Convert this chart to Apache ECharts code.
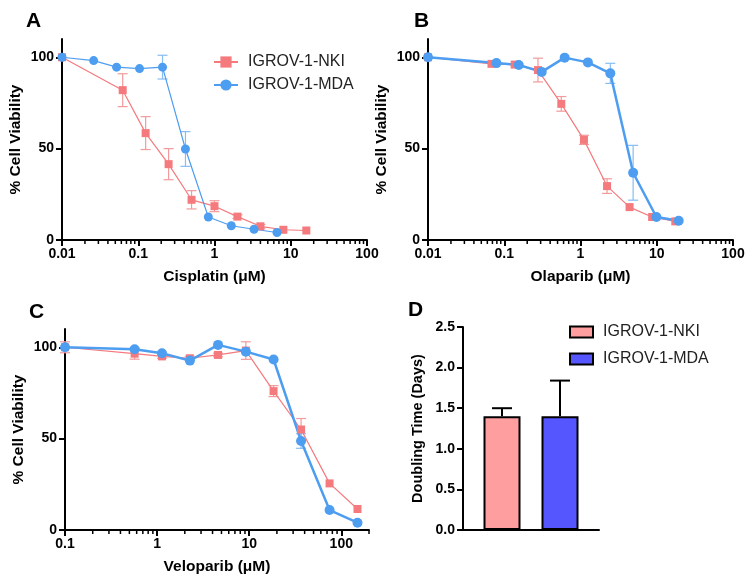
<!DOCTYPE html>
<html>
<head>
<meta charset="utf-8">
<script src="https://cdn.jsdelivr.net/npm/echarts@6/dist/echarts.min.js"></script>
<style>
  html, body { margin: 0; padding: 0; background: #fff; }
  #chart { width: 749px; height: 584px; }
</style>
</head>
<body>
<div id="chart"></div>
<script>
const chart = echarts.init(document.getElementById('chart'));

// ---- data ----
// A: cisplatin
const cisNkiX = [0.01, 0.0625, 0.125, 0.25, 0.5, 1, 2, 4, 8, 16];
const cisNkiY = [100, 82, 58.5, 41.5, 22, 18.5, 12.8, 7.5, 5.6, 5.2];
const cisNkiErr = [0, 9, 9, 8.5, 5, 3, 1, 1, 0, 0];
const cisMdaX = [0.01, 0.026, 0.052, 0.104, 0.208, 0.416, 0.83, 1.66, 3.3, 6.6];
const cisMdaY = [100, 98.2, 94.6, 93.8, 94.6, 49.8, 12.6, 7.8, 5.9, 4.1];
const cisMdaErr = [0, 0, 0, 0, 6.5, 9.5, 0, 0, 0, 0];

// B: olaparib
const olaNkiX = [0.01, 0.068, 0.137, 0.277, 0.56, 1.11, 2.23, 4.4, 8.7, 17.5];
const olaNkiY = [100, 96.4, 96, 93, 74.5, 54.8, 29.5, 18, 12.6, 10.2];
const olaNkiErr = [0, 0, 0, 6.5, 4, 2.5, 4, 0, 0, 0];
const olaMdaX = [0.01, 0.079, 0.155, 0.31, 0.62, 1.25, 2.46, 4.9, 9.9, 19.4];
const olaMdaY = [100, 96.8, 95.8, 92, 99.8, 97.2, 91.2, 36.8, 12.6, 10.5];
const olaMdaErr = [0, 0, 0, 0, 0, 0, 5.5, 15, 0, 0];

// C: veliparib
const velX = [0.1, 0.57, 1.13, 2.27, 4.59, 9.2, 18.4, 36.6, 74.6, 150];
const velNkiY = [100, 96.5, 95, 94, 95.8, 98.2, 76, 55, 25.5, 11.5];
const velNkiErr = [3, 3, 1, 1, 1, 4.8, 3, 6, 0, 0];
const velMdaY = [100, 98.9, 96.7, 92.7, 101.3, 97.6, 93.3, 48.7, 10.9, 4];
const velMdaErr = [0, 0, 0, 0, 0, 0, 0, 4, 0, 0];

// D: doubling time
const dtCats = [''];
const dtNki = [1.4];
const dtNkiErr = [0.1];
const dtMda = [1.4];
const dtMdaErr = [0.44];

const viabTicks = [0, 50, 100];

// ---- styling ----
const FONT = 'Liberation Sans, Arial, sans-serif';
const RED = '#F47A7E', BLUE = '#4D9DF0';
const RED_ERR = '#F29A9C', BLUE_ERR = '#86BDF3';
const BAR_NKI = '#FF9E9E', BAR_MDA = '#5656FF';

function pts(xs, ys) { return xs.map((x, i) => [x, ys[i]]); }
function errs(xs, ys, es) {
    return xs.map((x, i) => [x, ys[i] - es[i], ys[i] + es[i], es[i]]).filter(d => d[3] > 0);
}

function minorTicks(lo, hi) {
    const out = [];
    for (let k = Math.round(Math.log10(lo)); Math.pow(10, k) < hi; k++) {
        for (let m = 2; m <= 9; m++) {
            const v = m * Math.pow(10, k);
            if (v <= hi * 1.0001) out.push([v, 0]);
        }
    }
    return out;
}

function errorBar(color, cap, w) {
    return function (params, api) {
        const lo = api.coord([api.value(0), api.value(1)]);
        const hi = api.coord([api.value(0), api.value(2)]);
        const s = { stroke: color, lineWidth: w };
        return {
            type: 'group', children: [
                { type: 'line', shape: { x1: lo[0], y1: lo[1], x2: hi[0], y2: hi[1] }, style: s },
                { type: 'line', shape: { x1: hi[0] - cap, y1: hi[1], x2: hi[0] + cap, y2: hi[1] }, style: s },
                { type: 'line', shape: { x1: lo[0] - cap, y1: lo[1], x2: lo[0] + cap, y2: lo[1] }, style: s }
            ]
        };
    };
}

function minorRender(params, api) {
    const p = api.coord([api.value(0), 0]);
    return { type: 'line', shape: { x1: p[0], y1: p[1], x2: p[0], y2: p[1] + 4 },
             style: { stroke: '#000', lineWidth: 1.5 } };
}

const axisLine = { lineStyle: { color: '#000', width: 2 } };
const tickStyle = { lineStyle: { color: '#000', width: 2 } };
const labelStyle = { color: '#000', fontWeight: 'bold', fontSize: 14, fontFamily: FONT };
const nameStyle = { color: '#000', fontWeight: 'bold', fontSize: 15.5, fontFamily: FONT };

function logX(grid, min, max, name, majors) {
    return {
        type: 'log', logBase: 10, gridIndex: grid, min: min, max: max,
        axisLine: axisLine,
        axisTick: { length: 6, customValues: majors, lineStyle: tickStyle.lineStyle },
        axisLabel: Object.assign({ margin: 7, customValues: majors }, labelStyle),
        splitLine: { show: false },
        name: name, nameLocation: 'middle', nameGap: 29, nameTextStyle: nameStyle
    };
}
function viabY(grid) {
    return {
        type: 'value', gridIndex: grid, min: 0, max: 110,
        axisLine: Object.assign({ show: true }, axisLine),
        axisTick: { show: true, length: 6, customValues: viabTicks, lineStyle: tickStyle.lineStyle },
        axisLabel: Object.assign({ margin: 8, customValues: viabTicks }, labelStyle),
        splitLine: { show: false },
        name: '% Cell Viability', nameLocation: 'middle', nameGap: 38, nameTextStyle: nameStyle
    };
}

function lineSeries(name, ax, data, color, symbol, size, width) {
    return {
        name: name, type: 'line', xAxisIndex: ax, yAxisIndex: ax, data: data,
        symbol: symbol, symbolSize: size, z: 5,
        lineStyle: { color: color, width: width },
        itemStyle: { color: color },
        emphasis: { disabled: true }, animation: false
    };
}
function errSeries(ax, data, color, cap, w) {
    return {
        type: 'custom', xAxisIndex: ax, yAxisIndex: ax, data: data, z: 3,
        renderItem: errorBar(color, cap, w), silent: true, animation: false
    };
}
function minorSeries(ax, lo, hi) {
    return {
        type: 'custom', xAxisIndex: ax, yAxisIndex: ax, data: minorTicks(lo, hi), z: 1,
        renderItem: minorRender, silent: true, animation: false, clip: false
    };
}

// bar error bars: one category, bars offset left/right of its centre
const BAR_W = 37, BAR_GAP = 21;
function barErr(side) {
    return function (params, api) {
        const top = api.value(1) + api.value(2);
        const off = side * (BAR_W + BAR_GAP) / 2;
        const b = api.coord([api.value(0), api.value(1)]);
        const t = api.coord([api.value(0), top]);
        const s = { stroke: '#000', lineWidth: 2 };
        return {
            type: 'group', children: [
                { type: 'line', shape: { x1: b[0] + off, y1: b[1], x2: b[0] + off, y2: t[1] }, style: s },
                { type: 'line', shape: { x1: b[0] + off - 10, y1: t[1], x2: b[0] + off + 10, y2: t[1] }, style: s }
            ]
        };
    };
}

const legendText = { fontSize: 16, color: '#222', fontFamily: FONT, padding: [0, 0, 0, 5] };

const option = {
    backgroundColor: '#fff',
    animation: false,
    textStyle: { fontFamily: FONT },
    grid: [
        { left: 62, top: 39, width: 305, height: 201 },
        { left: 428, top: 39, width: 305, height: 201 },
        { left: 65, top: 329, width: 304, height: 201 },
        { left: 463, top: 327, width: 136, height: 203 }
    ],
    xAxis: [
        logX(0, 0.01, 100, 'Cisplatin (μM)', [0.01, 0.1, 1, 10, 100]),
        logX(1, 0.01, 100, 'Olaparib (μM)', [0.01, 0.1, 1, 10, 100]),
        logX(2, 0.1, 200, 'Veloparib (μM)', [0.1, 1, 10, 100]),
        {
            type: 'category', gridIndex: 3, data: dtCats,
            axisLine: axisLine,
            axisTick: { alignWithLabel: true, length: 8, lineStyle: tickStyle.lineStyle },
            axisLabel: { show: false }
        }
    ],
    yAxis: [
        viabY(0), viabY(1), viabY(2),
        {
            type: 'value', gridIndex: 3, min: 0, max: 2.5, interval: 0.5,
            axisLine: Object.assign({ show: true }, axisLine),
            axisTick: { show: true, length: 6, lineStyle: tickStyle.lineStyle },
            axisLabel: Object.assign({ margin: 8, formatter: v => v.toFixed(1) }, labelStyle),
            splitLine: { show: false },
            name: 'Doubling Time (Days)', nameLocation: 'middle', nameGap: 38,
            nameTextStyle: Object.assign({}, nameStyle, { fontSize: 14.5 })
        }
    ],
    legend: [
        {
            data: ['IGROV-1-NKI', 'IGROV-1-MDA'], orient: 'vertical',
            left: 208, top: 49, itemWidth: 24, itemHeight: 14, itemGap: 7,
            selectedMode: false, textStyle: legendText
        },
        {
            data: ['D-NKI', 'D-MDA'], orient: 'vertical', icon: 'rect',
            left: 564, top: 319, itemWidth: 23, itemHeight: 11, itemGap: 11,
            selectedMode: false,
            formatter: n => n.replace('D-', 'IGROV-1-'),
            textStyle: legendText
        }
    ],
    graphic: [
        { type: 'text', left: 26, top: 11, style: { text: 'A', font: 'bold 21px ' + FONT, fill: '#000' } },
        { type: 'text', left: 414, top: 11, style: { text: 'B', font: 'bold 21px ' + FONT, fill: '#000' } },
        { type: 'text', left: 29, top: 302, style: { text: 'C', font: 'bold 21px ' + FONT, fill: '#000' } },
        { type: 'text', left: 408, top: 300, style: { text: 'D', font: 'bold 21px ' + FONT, fill: '#000' } }
    ],
    series: [
        // A
        lineSeries('IGROV-1-NKI', 0, pts(cisNkiX, cisNkiY), RED, 'rect', 8, 1.2),
        lineSeries('IGROV-1-MDA', 0, pts(cisMdaX, cisMdaY), BLUE, 'circle', 9, 1.2),
        errSeries(0, errs(cisNkiX, cisNkiY, cisNkiErr), RED_ERR, 5, 1.2),
        errSeries(0, errs(cisMdaX, cisMdaY, cisMdaErr), BLUE_ERR, 5, 1.2),
        minorSeries(0, 0.01, 100),
        // B
        lineSeries('IGROV-1-NKI', 1, pts(olaNkiX, olaNkiY), RED, 'rect', 8, 1.2),
        lineSeries('IGROV-1-MDA', 1, pts(olaMdaX, olaMdaY), BLUE, 'circle', 10, 2.5),
        errSeries(1, errs(olaNkiX, olaNkiY, olaNkiErr), RED_ERR, 5, 1.2),
        errSeries(1, errs(olaMdaX, olaMdaY, olaMdaErr), BLUE_ERR, 5, 1.2),
        minorSeries(1, 0.01, 100),
        // C
        lineSeries('IGROV-1-NKI', 2, pts(velX, velNkiY), RED, 'rect', 8, 1.2),
        lineSeries('IGROV-1-MDA', 2, pts(velX, velMdaY), BLUE, 'circle', 10, 2.5),
        errSeries(2, errs(velX, velNkiY, velNkiErr), RED_ERR, 5, 1.2),
        errSeries(2, errs(velX, velMdaY, velMdaErr), BLUE_ERR, 5, 1.2),
        minorSeries(2, 0.1, 200),
        // D
        {
            name: 'D-NKI', type: 'bar', xAxisIndex: 3, yAxisIndex: 3, data: dtNki,
            barWidth: BAR_W, barGap: (BAR_GAP / BAR_W * 100) + '%',
            itemStyle: { color: BAR_NKI, borderColor: '#000', borderWidth: 2 }
        },
        {
            name: 'D-MDA', type: 'bar', xAxisIndex: 3, yAxisIndex: 3, data: dtMda,
            barWidth: BAR_W,
            itemStyle: { color: BAR_MDA, borderColor: '#000', borderWidth: 2 }
        },
        {
            type: 'custom', xAxisIndex: 3, yAxisIndex: 3, z: 1, silent: true,
            data: dtCats.map((c, i) => [i, dtNki[i], dtNkiErr[i]]), renderItem: barErr(-1)
        },
        {
            type: 'custom', xAxisIndex: 3, yAxisIndex: 3, z: 1, silent: true,
            data: dtCats.map((c, i) => [i, dtMda[i], dtMdaErr[i]]), renderItem: barErr(1)
        }
    ]
};

chart.setOption(option);
</script>
</body>
</html>
